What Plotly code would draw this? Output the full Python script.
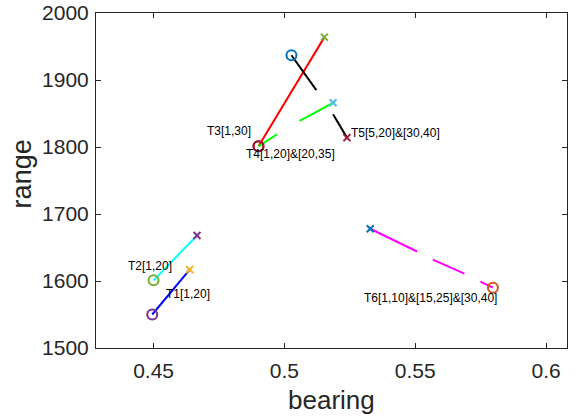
import plotly.graph_objects as go

# ---- data ----
names = ["T1[1,20]", "T2[1,20]", "T3[1,30]", "T4[1,20]&[20,35]", "T5[5,20]&[30,40]", "T6[1,10]&[15,25]&[30,40]"]
line_colors = ["#0000FF", "#00FFFF", "#FF0000", "#00FF00", "#000000", "#FF00FF"]

# segment endpoints per track (each segment: [x0, x1], [y0, y1])
seg_x = [
    [[0.4495, 0.4638]],
    [[0.4500, 0.4666]],
    [[0.4901, 0.5153]],
    [[0.4901, 0.4972], [0.5058, 0.5186]],
    [[0.5027, 0.5122], [0.5186, 0.5239]],
    [[0.5328, 0.5507], [0.5567, 0.5688], [0.5749, 0.5797]],
]
seg_y = [
    [[1550, 1617]],
    [[1601, 1668]],
    [[1801, 1964]],
    [[1801, 1819], [1839, 1866]],
    [[1937, 1885], [1849, 1814]],
    [[1678, 1644], [1632, 1611], [1599, 1590]],
]

# start (circle) and end (cross) markers
circ_x = [0.4495, 0.4500, 0.4901, 0.4901, 0.5027, 0.5797]
circ_y = [1550, 1601, 1801, 1801, 1937, 1590]
circ_c = ["#7E2F8E", "#77AC30", "#A2142F", "#A2142F", "#0072BD", "#D95319"]
cross_x = [0.4638, 0.4666, 0.5153, 0.5186, 0.5239, 0.5328]
cross_y = [1617, 1668, 1964, 1866, 1814, 1678]
cross_c = ["#EDB120", "#7E2F8E", "#77AC30", "#4DBEEE", "#A2142F", "#0072BD"]

label_x = [0.4545, 0.4398, 0.4701, 0.4851, 0.5252, 0.5302]
label_y = [1580, 1623, 1824, 1789, 1821, 1575]

x_ticks = [0.45, 0.5, 0.55, 0.6]
x_ticklabels = ["0.45", "0.5", "0.55", "0.6"]
y_ticks = [1500, 1600, 1700, 1800, 1900, 2000]

FONT = "Liberation Sans, Arial, Helvetica"
fig = go.Figure()
for i in range(len(names)):
    xs, ys = [], []
    for sx, sy in zip(seg_x[i], seg_y[i]):
        xs += sx + [None]
        ys += sy + [None]
    fig.add_trace(go.Scatter(x=xs, y=ys, mode="lines",
                             line=dict(color=line_colors[i], width=2),
                             showlegend=False, hoverinfo="skip"))

for i in range(len(names)):
    fig.add_trace(go.Scatter(x=[circ_x[i]], y=[circ_y[i]], mode="markers",
                             marker=dict(symbol="circle-open", size=10, color=circ_c[i],
                                         line=dict(width=2, color=circ_c[i])),
                             showlegend=False))
    fig.add_trace(go.Scatter(x=[cross_x[i]], y=[cross_y[i]], mode="markers",
                             marker=dict(symbol="x-thin-open", size=7, color=cross_c[i],
                                         line=dict(width=2, color=cross_c[i])),
                             showlegend=False))

for i, n in enumerate(names):
    fig.add_annotation(x=label_x[i], y=label_y[i], text=n, showarrow=False,
                       xanchor="left", yanchor="middle", borderpad=0,
                       font=dict(family=FONT, size=12, color="#000000"))

# axis titles as annotations for exact placement
fig.add_annotation(x=0.5, y=-0.155, xref="paper", yref="paper", text="bearing",
                   showarrow=False, xanchor="center", yanchor="middle",
                   font=dict(family=FONT, size=26, color="#262626"))
fig.add_annotation(x=-0.158, y=0.52, xref="paper", yref="paper", text="range",
                   showarrow=False, xanchor="center", yanchor="middle", textangle=-90,
                   borderpad=0,
                   font=dict(family=FONT, size=27, color="#262626"))

axis_common = dict(showgrid=False, zeroline=False, showline=True, mirror="ticks",
                   linecolor="#262626", linewidth=1, ticks="inside", ticklen=5,
                   tickcolor="#262626", automargin=False, ticklabeloverflow="allow",
                   tickfont=dict(family=FONT, size=21, color="#262626"))

fig.update_xaxes(range=[0.428, 0.608], tickvals=x_ticks, ticktext=x_ticklabels,
                 ticklabelstandoff=4, **axis_common)
fig.update_yaxes(range=[1500, 2000], tickvals=y_ticks, ticklabelstandoff=2, **axis_common)

fig.update_layout(width=579, height=418, margin=dict(l=96, r=12, t=13, b=70),
                  plot_bgcolor="white", paper_bgcolor="white")

# remove the default 8px page margin so the figure fills the window exactly
fig.write_html("out.html", config={"displayModeBar": False},
               post_script="document.body.style.margin='0';")
